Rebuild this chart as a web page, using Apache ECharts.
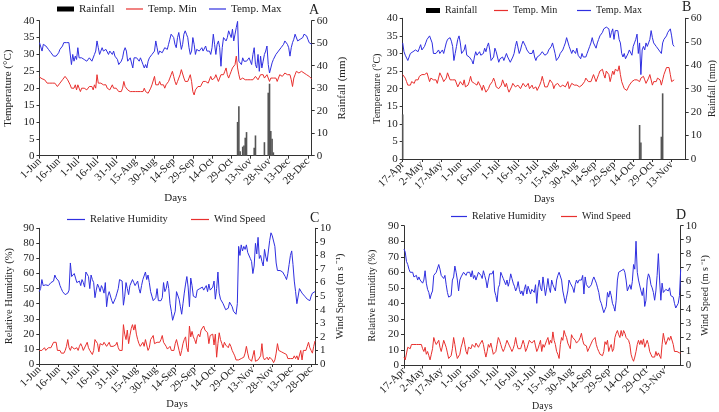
<!DOCTYPE html>
<html><head><meta charset="utf-8">
<script src="https://cdn.jsdelivr.net/npm/echarts@6/dist/echarts.min.js"></script>
<style>html,body{margin:0;padding:0;background:#fff}#c{width:719px;height:412px}</style>
</head><body><div id="c"></div><script>
// ---------- tick labels ----------
const ticksJunDec = ['1-Jun','16-Jun','1-Jul','16-Jul','31-Jul','15-Aug','30-Aug','14-Sep','29-Sep','14-Oct','29-Oct','13-Nov','28-Nov','13-Dec','28-Dec'];
const ticksAprNov = ['17-Apr','2-May','17-May','1-Jun','16-Jun','1-Jul','16-Jul','31-Jul','15-Aug','30-Aug','14-Sep','29-Sep','14-Oct','29-Oct','13-Nov'];
const nDaysA = 214, nDaysB = 222, nDaysC = 214, nDaysD = 224;

// ---------- Panel A (1-Jun .. 31-Dec) ----------
const tMaxA = [
33.5,33,31,33,32.5,32.5,32,31.5,31,30.5,
30,29.5,29.5,29.5,30,30.5,31.5,32,32.5,33.5,
33,33.5,33,33.5,33,27,30,28,29.5,28.5,
32,29,28.5,29,29.5,28.5,29,28,28.5,29,
29.5,28,28.5,30,31,34,32,30,31,32,
31,30.5,31.5,31,30,31,30.5,30,31,29.5,
29,28.5,27,26.5,28,29,31,32,31,28,
27.5,29,29.5,26,29,29.5,29,28.5,28,29,
28,27,26,27,26,28,29,29.5,30,30.5,
31,34,32,30,31,31.5,30.5,31,32,31.5,
31.5,33,34.5,36,36,35,33,32,35,36.5,
34,31.5,33,36,37,36,35,32,30,31,
35,33,30,31.5,32,31,31.5,32,31,31.5,
32.5,31,30.5,31,30,32,36,33,30,33,
34,32,26.5,32,35,35,34,35,37,36,
35,37.5,34,36,38,39.8,28,28.5,27,29,
28,27.5,28,28.5,29,28,27,30,32,27,
26,30,25,29.5,26,28,30,31,32.5,27,
24.5,26,27.5,28.5,29,30,30.5,31,30.5,32,
31.5,33,34,34.5,33,32,29.5,32,33.5,34.5,
36,36.5,34,34,34.5,34,35,36,36,35.5,
34.5,33.5,33,33];
const tMinA = [
23.3,23,22.8,23,22.5,22,21.5,22,21.5,22,
21.5,21,21.5,21,20.5,21,21.5,22,22.5,23,
23.5,23,22.5,22,21,20,19.5,20,21,19.5,
21,20,19,20,19.5,20,20.5,19.5,20,20.5,
21,20.5,19.5,21,20,24,21.5,21,21.5,21,
21,20.5,21,20,20.5,19.5,20,21,20,19.5,
20,19.5,19,18.5,19,20,22,20.5,20,19.5,
20,19,19.5,19,18.5,19,18.5,19,18.5,19,
18.5,19,20,19,19.5,18.5,19,20,21,21.5,
23.5,21,20.5,21,22,21,20.5,21,20,21,
21.5,22,23,24,25,23.5,22,21,22,23,
24,25.5,25,23,22,21.5,22,23,24,22,
19,18,19.5,20,20.5,21,20.5,21,22,21.5,
22,22.5,21.5,22,23.5,22.5,22,23,24,23,
22,23,24,23.5,24,25,26,24,23,24,
25,26,25.5,27,29.5,26,24,22.5,22.5,23,
23,22.5,23,22.5,22,22.5,22,22.5,23,23.5,
23,22.5,23,24,23.5,24,23,22.5,24,23.5,
22,23,22.5,23,22.5,23,22,23,24,23.5,
23.5,24,24.5,25,24,23.5,24,22.5,20.5,23,
24,25,25.5,24.5,25,25,25.5,24.5,25,24,
24,23.5,23,22.8];
const rainDaysA = [155,156,157,159,160,161,162,168,169,176,179,180,181,182,183];
const rainMmA   = [15,22,2,4,4.5,8,10.5,3.5,9,6,28,32,11,7.5,1.5];

// ---------- Panel B (17-Apr .. Nov) ----------
const tMaxB = [
33,30.5,29.5,29,28,29,30,30.5,30.5,31,
31,31,30.5,31.5,32.5,31,31.5,32,33,34,
34.5,35,35.5,33,30,29.5,30,30,31,30,
30.5,31,30,31.5,33,34,34,34.5,33.5,32,
28,30,32,34,35,33,30,29.5,31,32.5,
29.5,29,29,28.5,28,27,29,30.5,29.5,29,
30.5,29.5,30,30,31.5,30.5,32,33,31,28,
28.5,29,31.5,30.5,30,27.5,28.5,28,29,28,
29,30,29,29,27.5,27,29,30,32,33.5,
33,30,31,32.5,33.5,33,32,31,31,30,
29.5,30,31,29,28,29,29,29.5,30,30.5,
30,29.5,29,30,31,31.5,32,33,31.5,30,
28,28.5,29,30,29.5,31,32,33,34.5,34,
32,31,30,31,30.5,30,31.5,29.5,29,28.5,
30,29,28.5,29,30,31,32,33,34.5,33,
33,31.5,33,34,35,35.5,36,37,37.5,37.5,
38,37,34.5,36,37,34,36.5,37,36.5,34,
33,30,29,30,28.5,28,30,31,30.5,29.5,
32,33,34,35.5,30,33,24,31,32,31,
33,32,33,34,36.5,34.5,33,33,32,32.5,
31,30.5,30,33,34,34,35,36,36.5,37,
35,32.5,32];
const tMinB = [
24,23.5,23,22,21,20.5,21,22,22,21.5,
22.5,23,22.5,23.5,23,24,23.5,24,24.5,24.5,
24,22,23,23,22.5,23,22.5,21.5,23,24.5,
24,23,22,21.5,23,24.5,24,22.5,23,22.5,
23,22.5,22,20.5,21,22,22,21,22.5,20.5,
21,21,22,23.5,22,21.5,21.5,21.5,21,22,
21.5,20.5,19.5,21,20.5,19,19,20,21,21.5,
22,23,22,20.5,21,20,19.5,21,22.5,22,
20.5,21.5,20,19,19.5,20.5,21.5,21,20.5,20.5,
21,20.5,20,20.5,21.5,21,20.5,21,21.5,20,
20.5,21,20,19.5,20.5,19.5,20,21,22,23.5,
22,20.5,20,20.5,21,22.5,23,21.5,20,21,
20.5,21.5,21,20.5,20,21,21.5,20.5,21,22,
20,20.5,21.5,22,21,20.5,21,21.5,20.5,20,
21,21.5,22,23,22.5,22,21.5,22,23,24,
23.5,22,23,24,25,24.5,25.5,24,23,25,
25.5,24,22,23.5,25,24,25.5,26,25,26.5,
24,22,21,20,19.5,19.5,20,21,21.5,22,
22,22.5,23,22.5,23,22,23,22.5,23.5,22.5,
21.5,22,23,24,23.5,21,22,21.5,22,23,
23.5,22.5,21,22.5,24,25,26,25.5,26,24,
22,22,22.5];
const rainDaysB = [0,185,186,202,203];
const rainMmB   = [19,14.5,7,9.5,28];

// ---------- Panel C (1-Jun .. 31-Dec) ----------
const rhC = [
48,50,56,52,51,52.5,53,52,53,54,
53,55,59,57,56,55,52,50,48,47,
46,46,47,49,67,58,59,60,57,54,
53,55,52,56,54,51,61,60,58,50,
59,56,54,44,49,53,51,48,52,50,
47,54,38,45,48,47,42,40,40,44,
47,50,56,57,55,39,45,54,50,46,
52,53,56,54,52,53,55,50,47,52,
56,57,61,56,59,54,48,45,42,43,
44,50,42,41,42,44,54,48,50,55,
50,40,35,29,28,35,48,47,43,38,
33,40,47,53,58,51,38,57,52,45,
44,44,49,48,50,49,51,49,50,52,
48,53,49,50,51,55,43,50,61,47,
43,42,40,39,36,36,37,41,40,38,
35,34,33,40,78,72,79,75,78,76,
79,74,75,70,68,60,65,80,73,84,
70,72,68,65,76,71,68,67,82,87,
85,85,78,67,62,61,62,61,61,60,
58,56,60,66,72,75,66,55,48,40,
39,50,49,47,46,45,44,43,42,42,
45,47,48,48];
const windC = [
1.0,1.0,1.0,0.9,1.2,1.0,1.1,1.2,1.3,1.2,
1.4,1.6,1.7,1.6,1.0,0.9,1.0,0.8,0.7,0.8,
1.0,1.3,1.8,1.2,1.0,1.3,1.2,1.1,1.0,1.2,
1.0,1.3,1.5,1.3,1.0,1.1,1.4,1.6,1.2,1.0,
0.9,0.7,1.0,1.8,1.7,1.5,0.9,1.5,1.6,1.4,
1.6,1.5,1.3,1.4,1.6,1.3,1.4,1.3,1.3,1.4,
1.6,1.2,1.0,1.1,1.0,2.9,2.2,1.8,2.5,1.5,
2.1,2.6,2.9,2.5,2.9,2.2,1.8,1.5,1.3,1.4,
1.6,1.3,1.8,1.4,1.0,1.2,1.8,1.8,2.1,1.5,
1.4,1.6,1.7,1.6,1.8,2.1,1.6,1.7,1.3,1.1,
1.0,1.3,1.0,0.9,1.0,1.5,1.8,1.7,1.0,0.6,
1.0,1.5,1.8,2.0,1.2,0.9,2.8,2.0,2.4,2.0,
1.8,1.5,2.0,2.2,2.0,2.5,2.6,2.8,2.5,2.6,
2.3,1.5,2.1,2.0,2.2,1.4,2.2,0.5,1.5,2.3,
1.8,1.5,1.2,1.6,1.4,1.4,1.2,1.5,1.3,1.0,
0.8,0.6,0.3,0.3,0.3,0.3,0.4,0.3,0.5,0.8,
1.3,0.8,0.4,0.3,0.2,0.6,1.0,0.2,0.1,0.3,
0.4,0.6,1.5,0.5,0.3,0.4,0.5,0.3,0.5,0.6,
0.3,0.1,0.3,0.8,1.5,1.0,0.9,0.9,0.9,0.8,
0.8,0.7,0.4,0.3,0.4,0.5,0.4,0.6,0.4,0.6,
0.3,0.4,1.0,0.3,1.0,1.1,1.0,1.3,1.6,1.2,
1.0,0.8,1.3,1.7];

// ---------- Panel D (17-Apr .. Nov) ----------
const rhD = [
75,73,67,65,62,60,59,60,57,56,
58,55,57,55,56,53,55,61,53,49,
47,43,46,48,58,58,60,61,65,62,
58,59,56,58,52,47,44,43,45,55,
57,64,60,55,48,55,57,58,60,59,
58,60,61,60,57,61,56,58,55,56,
60,61,58,56,61,58,55,50,55,59,
60,59,61,48,45,41,50,52,60,58,
56,57,52,55,51,54,59,56,53,51,
48,50,54,49,46,48,45,49,52,46,
51,50,46,49,49,47,52,40,50,55,
50,48,57,58,45,50,56,50,47,55,
52,50,48,55,58,60,59,55,48,44,
40,44,48,55,53,52,50,47,52,55,
53,55,56,55,58,46,57,52,51,50,
50,52,55,57,55,53,50,47,42,40,
37,34,36,38,47,44,48,45,40,38,
35,42,55,60,61,61,60,62,60,55,
48,49,52,49,54,65,62,80,60,55,
54,48,45,50,38,42,55,59,57,52,
50,47,42,48,58,72,55,42,53,47,
46,49,48,48,50,45,45,44,40,37,
37,40,45,62];
const windD = [
0.6,0.4,0.3,1.3,1.4,1.2,1.5,1.6,1.5,1.4,
1.5,1.6,1.5,1.4,1.5,1.2,1.0,1.3,0.8,1.0,
0.7,0.4,0.8,1.2,2.0,1.7,1.5,1.6,1.8,1.3,
1.0,0.9,1.8,1.9,1.3,0.9,0.5,0.5,0.7,1.2,
2.0,1.5,0.9,0.5,0.5,0.8,1.3,1.6,2.0,1.5,
1.0,0.8,1.3,1.4,1.2,1.5,1.4,1.3,1.6,1.5,
1.3,1.5,1.6,1.8,1.5,1.0,0.6,1.0,1.5,1.3,
1.6,1.2,0.8,0.7,1.0,1.5,2.0,1.8,1.5,1.2,
1.0,1.2,1.5,1.8,1.6,1.4,1.2,1.0,1.2,1.5,
2.0,1.5,1.2,1.3,1.2,1.5,1.8,1.5,1.0,1.2,
1.5,1.8,1.7,1.6,1.5,1.8,1.4,1.0,1.2,1.5,
1.8,1.0,1.5,1.3,1.2,1.8,2.0,1.5,1.8,1.6,
2.4,1.8,1.5,1.0,0.8,0.5,1.5,2.0,1.8,2.5,
2.2,2.0,1.6,1.4,1.2,2.2,2.0,2.1,1.8,1.6,
1.5,1.8,2.0,2.3,1.8,1.5,1.6,1.4,1.0,1.2,
1.4,1.6,1.8,1.9,2.0,1.5,1.2,1.0,0.8,0.7,
0.7,1.0,1.7,1.5,1.8,1.0,1.3,1.5,1.0,1.2,
2.0,2.3,2.5,2.2,2.0,2.5,2.1,2.5,2.3,2.0,
2.1,1.8,1.5,0.8,0.5,0.3,0.6,1.0,1.5,1.8,
1.5,1.8,1.5,1.9,1.3,1.2,1.8,1.5,1.0,0.8,
0.6,0.6,0.6,1.0,0.7,0.9,0.8,0.5,1.5,2.3,
1.8,1.5,1.6,2.0,1.8,2.1,2.2,1.5,1.0,0.9,
1.0,1.0,0.9,0.9];

// ---------- build ----------
const FONT = "'Liberation Serif','Times New Roman',serif";
const BLUE = '#2f2fe0', RED = '#e8302e', GREY = '#555', AX = '#333';
const grid = [], xAxis = [], yAxis = [], series = [], legend = [], title = [];

function sparse(n, days, vals) {
  const a = new Array(n).fill(null);
  days.forEach((d, k) => { a[d] = vals[k]; });
  return a;
}
function yAx(i, pos, max, interval, name, gap, fs) {
  return {type:'value', gridIndex:i, position:pos, min:0, max:max, interval:interval,
    axisLine:{show:true, onZero:false, lineStyle:{color:AX, width:1}},
    axisTick:{show:true, length:3, lineStyle:{color:AX}},
    splitLine:{show:false},
    axisLabel:{fontFamily:FONT, fontSize:11, color:'#222', margin:5},
    name:name, nameLocation:'middle', nameRotate:90, nameGap:gap,
    nameTextStyle:{fontFamily:FONT, fontSize:fs, color:'#222'}};
}
function panel(i, box, o) {
  grid.push({left:box[0], top:box[1], width:box[2], height:box[3]});
  const cats = Array.from({length:o.n}, (_, k) => String(k));
  xAxis.push({type:'category', gridIndex:i, data:cats, boundaryGap:false,
    axisLine:{lineStyle:{color:AX, width:1}},
    axisTick:{interval:(k) => k % 15 === 0, length:3, lineStyle:{color:AX}},
    axisLabel:{interval:(k) => k % 15 === 0, rotate:45, margin:4,
      formatter:(v) => o.ticks[Number(v) / 15] || '',
      fontFamily:FONT, fontSize:11, color:'#222'},
    name:'Days', nameLocation:'middle', nameGap:o.xGap,
    nameTextStyle:{fontFamily:FONT, fontSize:o.daysFs, color:'#222'}});
  yAxis.push(yAx(i, 'left', o.lMax, o.lInt, o.lName, o.lGap, o.nameFs));
  yAxis.push(yAx(i, 'right', o.rMax, o.rInt, o.rName, o.rGap, o.nameFs));
  o.series.forEach((s, k) => {
    const base = {name:s.name, xAxisIndex:i, yAxisIndex:2 * i + (s.right ? 1 : 0),
      data:s.data, animation:false, silent:true};
    if (s.type === 'bar') {
      series.push(Object.assign(base, {type:'bar', barWidth:1.6, itemStyle:{color:GREY}, z:1}));
    } else {
      series.push(Object.assign(base, {type:'line', symbol:'none', z:3,
        lineStyle:{color:s.color, width:1}, itemStyle:{color:s.color}}));
    }
    const isBar = s.type === 'bar';
    legend.push({left:o.legX[k], top:o.legTop, padding:0, itemGap:0,
      itemWidth:o.legW, itemHeight:isBar ? 5 : 1.2, icon:'rect', selectedMode:false,
      textStyle:{fontFamily:FONT, fontSize:o.legFs, color:'#222'},
      data:[isBar ? {name:s.name, itemStyle:{color:'#000'}} : {name:s.name}]});
  });
  title.push({text:o.letter, left:o.letX, top:o.letY, padding:0,
    textStyle:{fontFamily:FONT, fontSize:14, fontWeight:'normal', color:'#222'}});
}

panel(0, [39.5, 20.7, 272.2, 135], {n:nDaysA, ticks:ticksJunDec,
  lMax:40, lInt:5, lName:'Temperature (°C)', lGap:26,
  rMax:60, rInt:10, rName:'Rainfall (mm)', rGap:25, nameFs:11,
  xGap:37, daysFs:11,
  series:[{type:'bar', name:'Rainfall', right:true, data:sparse(nDaysA, rainDaysA, rainMmA)},
          {name:'Temp. Min', color:RED, data:tMinA},
          {name:'Temp. Max', color:BLUE, data:tMaxA}],
  legX:[57, 126, 209], legW:17, legTop:3.5, legFs:11,
  letter:'A', letX:309, letY:3});

panel(1, [402.7, 18.3, 283, 140.7], {n:nDaysB, ticks:ticksAprNov,
  lMax:40, lInt:5, lName:'Temperature (°C)', lGap:19,
  rMax:60, rInt:10, rName:'Rainfall (mm)', rGap:22, nameFs:10,
  xGap:35, daysFs:10,
  series:[{type:'bar', name:'Rainfall', right:true, data:sparse(nDaysB, rainDaysB, rainMmB)},
          {name:'Temp. Min', color:RED, data:tMinB},
          {name:'Temp. Max', color:BLUE, data:tMaxB}],
  legX:[426, 494, 577], legW:14, legTop:5.5, legFs:10,
  letter:'B', letX:682, letY:0});

panel(2, [39.3, 228.3, 275.7, 135.7], {n:nDaysC, ticks:ticksJunDec,
  lMax:90, lInt:10, lName:'Relative Humidity (%)', lGap:25,
  rMax:10, rInt:1, rName:'Wind Speed (m s \u207B\u00B9)', rGap:18, nameFs:10.5,
  xGap:35, daysFs:10.5,
  series:[{name:'Relative Humidity', color:BLUE, data:rhC},
          {name:'Wind Speed', color:RED, right:true, data:windC}],
  legX:[67, 191], legW:18, legTop:214, legFs:10.5,
  letter:'C', letX:310, letY:211});

panel(3, [404, 225.7, 276.7, 140], {n:nDaysD, ticks:ticksAprNov,
  lMax:90, lInt:10, lName:'Relative Humidity (%)', lGap:27,
  rMax:10, rInt:1, rName:'Wind Speed (m s \u207B\u00B9)', rGap:18, nameFs:10,
  xGap:34, daysFs:10,
  series:[{name:'Relative Humidity', color:BLUE, data:rhD},
          {name:'Wind Speed', color:RED, right:true, data:windD}],
  legX:[451, 561], legW:16, legTop:211.5, legFs:10,
  letter:'D', letX:676, letY:208});

const chart = echarts.init(document.getElementById('c'), null, {renderer:'canvas'});
chart.setOption({backgroundColor:'#fff', animation:false, grid, xAxis, yAxis, series, legend, title});
</script></body></html>
